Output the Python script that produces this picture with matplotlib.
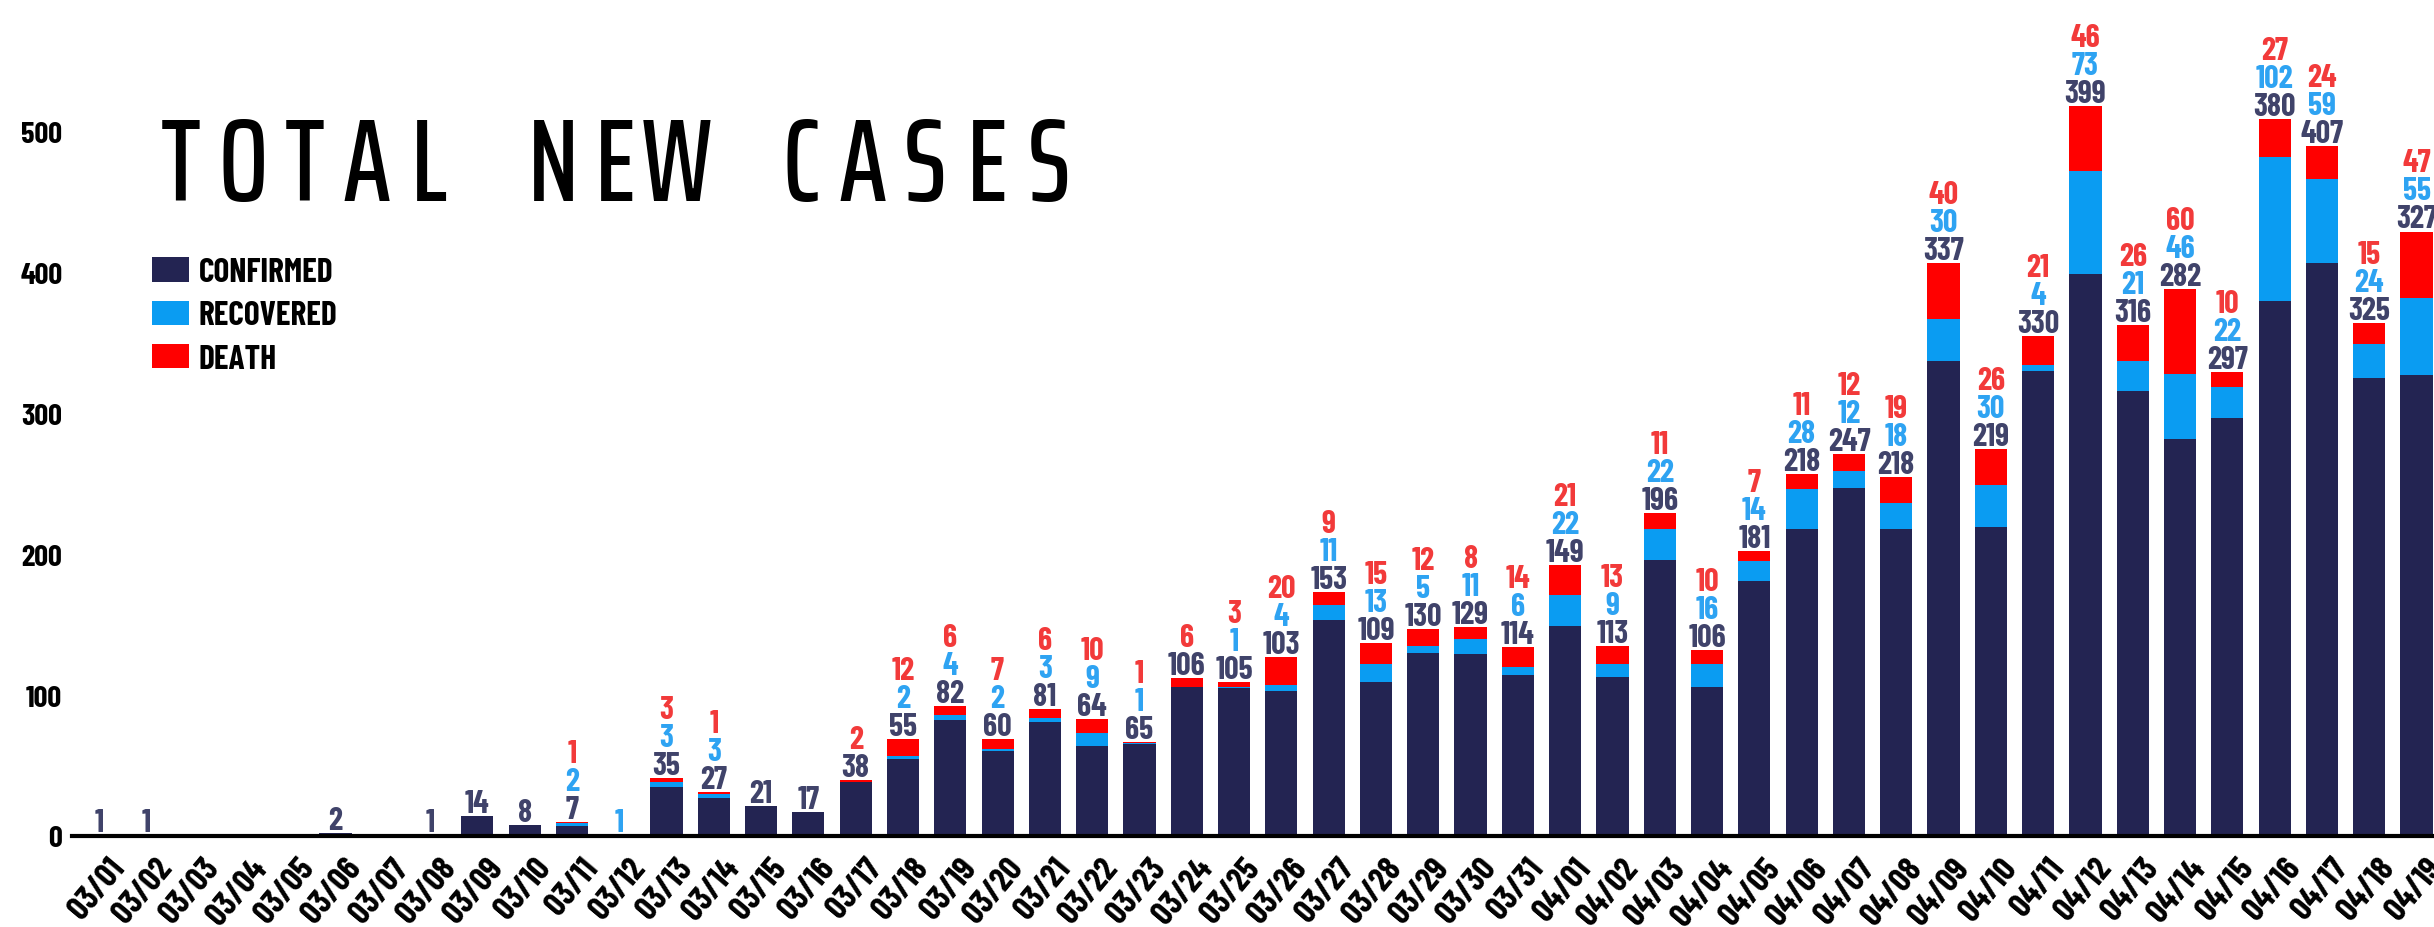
import numpy as np
import matplotlib
matplotlib.use("Agg")
import matplotlib.pyplot as plt
from matplotlib.patches import Patch
from matplotlib.transforms import ScaledTranslation

dates = ["03/01", "03/02", "03/03", "03/04", "03/05", "03/06", "03/07", "03/08", "03/09", "03/10",
         "03/11", "03/12", "03/13", "03/14", "03/15", "03/16", "03/17", "03/18", "03/19", "03/20",
         "03/21", "03/22", "03/23", "03/24", "03/25", "03/26", "03/27", "03/28", "03/29", "03/30",
         "03/31", "04/01", "04/02", "04/03", "04/04", "04/05", "04/06", "04/07", "04/08", "04/09",
         "04/10", "04/11", "04/12", "04/13", "04/14", "04/15", "04/16", "04/17", "04/18", "04/19"]
confirmed = [1, 1, 0, 0, 0, 2, 0, 1, 14, 8,
             7, 0, 35, 27, 21, 17, 38, 55, 82, 60,
             81, 64, 65, 106, 105, 103, 153, 109, 130, 129,
             114, 149, 113, 196, 106, 181, 218, 247, 218, 337,
             219, 330, 399, 316, 282, 297, 380, 407, 325, 327]
recovered = [0, 0, 0, 0, 0, 0, 0, 0, 0, 0,
             2, 1, 3, 3, 0, 0, 0, 2, 4, 2,
             3, 9, 1, 0, 1, 4, 11, 13, 5, 11,
             6, 22, 9, 22, 16, 14, 28, 12, 18, 30,
             30, 4, 73, 21, 46, 22, 102, 59, 24, 55]
death = [0, 0, 0, 0, 0, 0, 0, 0, 0, 0,
         1, 0, 3, 1, 0, 0, 2, 12, 6, 7,
         6, 10, 1, 6, 3, 20, 9, 15, 12, 8,
         14, 21, 13, 11, 10, 7, 11, 12, 19, 40,
         26, 21, 46, 26, 60, 10, 27, 24, 15, 47]

series_names = ["CONFIRMED", "RECOVERED", "DEATH"]
bar_colors = ["#232452", "#0a9cf2", "#ff0000"]
label_colors = ["#40436a", "#2ea3f2", "#f23a3a"]

LABEL_FONT = ["Barlow Condensed", "DejaVu Sans"]
TITLE_FONT = ["Saira ExtraCondensed", "DejaVu Sans"]

W, H = 2434, 928
fig = plt.figure(figsize=(W / 100, H / 100), dpi=100)
ax = fig.add_axes([72 / W, 91 / H, 1 - 72 / W, 1 - 91 / H])

x = np.arange(len(dates))
conf = np.array(confirmed)
rec = np.array(recovered)
dth = np.array(death)

ax.bar(x, conf, width=0.68, color=bar_colors[0], linewidth=0)
ax.bar(x, rec, width=0.68, bottom=conf, color=bar_colors[1], linewidth=0)
ax.bar(x, dth, width=0.68, bottom=conf + rec, color=bar_colors[2], linewidth=0)

# value labels stacked above each bar, zeros skipped
totals = conf + rec + dth
for i in x:
    k = 0
    for vals, col in zip((conf, rec, dth), label_colors):
        if vals[i] > 0:
            ax.annotate(str(vals[i]), (i, totals[i]), xytext=(0, 4 + k * 28),
                        textcoords="offset pixels", ha="center", va="baseline",
                        fontsize=23, fontweight="bold", color=col, family=LABEL_FONT)
            k += 1

ax.set_xlim(-0.57, 49.37)
ax.set_ylim(0, 594)
ax.set_yticks([0, 100, 200, 300, 400, 500])
ax.set_xticks(x)
ax.set_xticklabels(dates)

for s in ["top", "right", "left"]:
    ax.spines[s].set_visible(False)
ax.spines["bottom"].set_linewidth(3)
ax.spines["bottom"].set_color("black")
ax.tick_params(axis="both", length=0)
ax.tick_params(axis="y", pad=7)
ax.tick_params(axis="x", pad=19)

for lbl in ax.get_yticklabels():
    lbl.set_fontsize(22)
    lbl.set_fontweight("bold")
    lbl.set_family(LABEL_FONT)
for lbl in ax.get_xticklabels():
    lbl.set_fontsize(24)
    lbl.set_fontweight("bold")
    lbl.set_family(LABEL_FONT)
    lbl.set_rotation(50)
    lbl.set_ha("right")
    lbl.set_va("center")
    lbl.set_rotation_mode("anchor")
    lbl.set_transform(lbl.get_transform() + ScaledTranslation(20 / 100, 0, fig.dpi_scale_trans))

# spaced-out title
title = "TOTAL NEW CASES"
for j, ch in enumerate(title):
    fig.text((181 + j * 62) / W, 1 - 201 / H, ch, ha="center", va="baseline",
             fontsize=84, fontweight="medium", family=TITLE_FONT, color="black")

handles = [Patch(facecolor=c, edgecolor="none") for c in bar_colors]
fig.legend(handles, series_names, loc="upper left", bbox_to_anchor=(152 / W, 1 - 258 / H),
           frameon=False, prop={"family": LABEL_FONT, "weight": "bold", "size": 24},
           handlelength=1.1, handleheight=0.75, handletextpad=0.3, labelspacing=0.4,
           borderpad=0, borderaxespad=0)

fig.savefig("out.png", dpi=100)
